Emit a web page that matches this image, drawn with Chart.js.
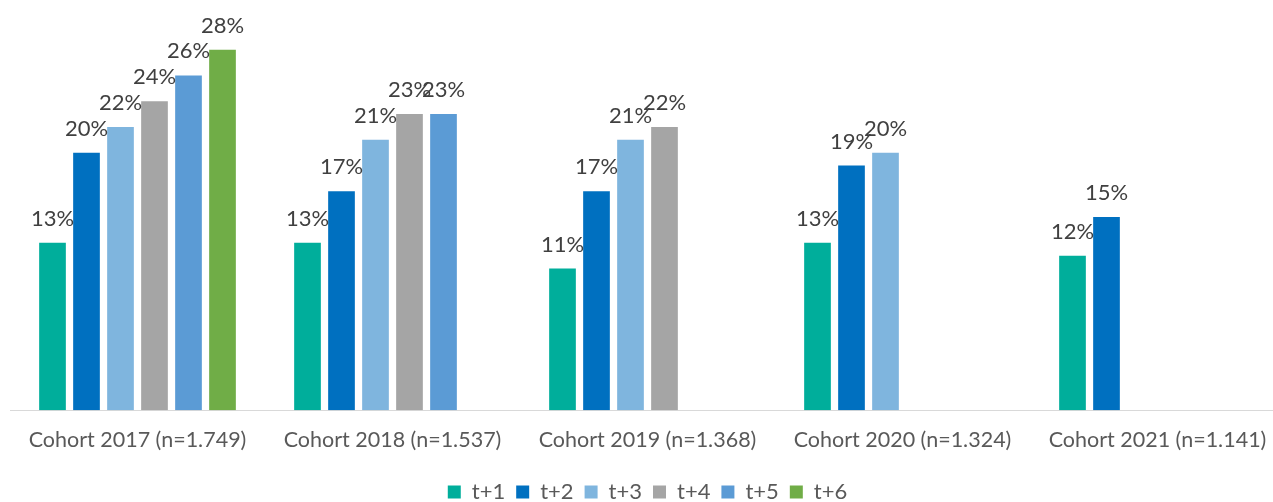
<!DOCTYPE html>
<html>
<head>
<meta charset="utf-8">
<script src="https://cdn.jsdelivr.net/npm/chart.js@4.4.1/dist/chart.umd.min.js"></script>
<style>
  html, body { margin: 0; padding: 0; background: #fff; overflow: hidden; }
  #wrap { width: 1285px; height: 513px; }
</style>
</head>
<body>
<div id="wrap"><canvas id="chart" width="1285" height="513"></canvas></div>
<script>
// Cohorts and their share per follow-up year (%)
const cohorts = [
    "Cohort 2017 (n=1.749)",
    "Cohort 2018 (n=1.537)",
    "Cohort 2019 (n=1.368)",
    "Cohort 2020 (n=1.324)",
    "Cohort 2021 (n=1.141)"
];
const seriesNames = ["t+1", "t+2", "t+3", "t+4", "t+5", "t+6"];
const t1 = [13, 13, 11, 13, 12];
const t2 = [20, 17, 17, 19, 15];
const t3 = [22, 21, 21, 20, null];
const t4 = [24, 23, 22, null, null];
const t5 = [26, 23, null, null, null];
const t6 = [28, null, null, null, null];
const colors = ["#00AE9B", "#0070C0", "#7FB5DE", "#A5A5A5", "#5B9BD5", "#70AD47"];

const allSeries = [t1, t2, t3, t4, t5, t6];
const fontFamily = "Lato, 'Open Sans', sans-serif";

// simple value labels above bars
const valueLabels = {
    id: 'valueLabels',
    afterDatasetsDraw(chart) {
        const ctx = chart.ctx;
        ctx.save();
        ctx.font = '22px ' + fontFamily;
        ctx.fillStyle = '#404040';
        ctx.textAlign = 'center';
        ctx.textBaseline = 'alphabetic';
        chart.data.datasets.forEach((ds, i) => {
            const meta = chart.getDatasetMeta(i);
            meta.data.forEach((bar, j) => {
                if (ds.data[j] == null) return;
                ctx.fillText(ds.data[j] + '%', bar.x, bar.y - 17);
            });
        });
        ctx.restore();
    }
};

new Chart(document.getElementById('chart'), {
    type: 'bar',
    data: {
        labels: cohorts,
        datasets: allSeries.map((vals, i) => ({
            label: seriesNames[i],
            data: vals,
            backgroundColor: colors[i],
            borderWidth: 0,
            categoryPercentage: 0.8,
            barPercentage: 0.785
        }))
    },
    options: {
        responsive: false,
        animation: false,
        layout: { padding: { left: 10, right: 0, top: 24, bottom: 0 } },
        plugins: {
            legend: {
                position: 'bottom',
                labels: {
                    boxWidth: 13,
                    boxHeight: 13,
                    color: '#595959',
                    font: { size: 22, family: fontFamily },
                    padding: 11
                }
            },
            tooltip: { enabled: false }
        },
        scales: {
            x: {
                grid: { display: false, drawTicks: false },
                border: { color: '#D9D9D9', width: 1 },
                ticks: {
                    color: '#595959',
                    font: { size: 21.5, family: fontFamily },
                    padding: 17
                }
            },
            y: {
                display: false,
                min: 0,
                max: 30
            }
        }
    },
    plugins: [valueLabels]
});
</script>
</body>
</html>
